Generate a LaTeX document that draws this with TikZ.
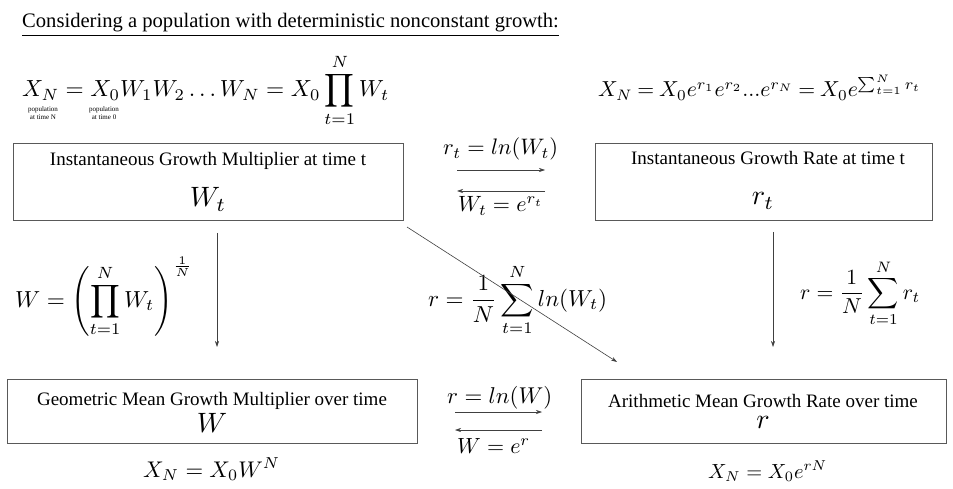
\documentclass[tikz,border=0pt]{standalone}
\usepackage{amsmath}
\usepackage{graphicx}
\usepackage{fontspec}
\newfontfamily\tms{Liberation Serif}
\usetikzlibrary{arrows.meta}
\begin{document}
\begin{tikzpicture}[x=1pt,y=-1pt,
  boxst/.style={draw=black!65, line width=0.8pt, inner sep=0pt, anchor=north west},
  arr/.style={-{Stealth[length=6pt,width=4pt]}, line width=0.6pt, draw=black!75},
  ttl/.style={font=\tms\fontsize{19}{22}\selectfont, anchor=base, inner sep=0pt},
  mth/.style={inner sep=0pt, anchor=base west},
  bmth/.style={inner sep=0pt, anchor=base},
  lbl/.style={font=\tms\fontsize{7}{8}\selectfont, anchor=base, inner sep=0pt}]
\useasboundingbox (0,0) rectangle (953,489);
\fill[white] (0,0) rectangle (953,489);

% title
\node[font=\tms\fontsize{20.6}{24}\selectfont, anchor=base west, inner sep=0pt] (title) at (22,28)
  {\underline{Considering a population with deterministic nonconstant growth:}};

% top formulas
\node[mth] (f1) at (22,97) {\resizebox{367pt}{!}{$\displaystyle X_N = X_0 W_1 W_2 \dots W_N = X_0 \prod_{t=1}^{N} W_t$}};
\node[lbl] (l1a) at (43,112) {population};
\node[lbl] (l1b) at (43,120) {at time N};
\node[lbl] (l2a) at (104,112) {population};
\node[lbl] (l2b) at (104,120) {at time 0};
\node[mth] (f2) at (598,97) {\scalebox{2.17}{\thickmuskip=4mu plus 2mu$X_N = X_0 e^{r_1} e^{r_2} ... e^{r_N} = X_0 e^{\sum_{t=1}^{N} r_t}$}};

% boxes
\node[boxst, minimum width=390pt, minimum height=77pt] (b1) at (13,143) {};
\node[boxst, minimum width=337pt, minimum height=77pt] (b2) at (595,143) {};
\node[boxst, minimum width=410pt, minimum height=64pt] (b3) at (7,379) {};
\node[boxst, minimum width=365pt, minimum height=64pt] (b4) at (581,379) {};

\node[ttl] (b1t) at (208,166) {Instantaneous Growth Multiplier at time t};
\node[bmth] (b1m) at (208,207) {\scalebox{2.8}{$W_t$}};
\node[ttl] (b2t) at (768,165) {Instantaneous Growth Rate at time t};
\node[bmth] (b2m) at (763,205) {\scalebox{2.8}{$r_t$}};
\node[ttl] (b3t) at (212,405) {Geometric Mean Growth Multiplier over time};
\node[bmth] (b3m) at (212,432) {\scalebox{2.8}{$W$}};
\node[ttl] (b4t) at (763,407) {Arithmetic Mean Growth Rate over time};
\node[bmth] (b4m) at (763,428) {\scalebox{2.8}{$r$}};

% middle conversions
\node[mth] (m1) at (443,155) {\resizebox{115pt}{!}{$r_t = ln(W_t)$}};
\node[mth] (m2) at (458,212) {\resizebox{85pt}{!}{$W_t = e^{r_t}$}};
\node[mth] (m3) at (447,403) {\resizebox{105pt}{!}{$r = ln(W)$}};
\node[mth] (m4) at (457,453) {\resizebox{73pt}{!}{$W = e^{r}$}};

\coordinate (a1s) at (457,170); \coordinate (a1e) at (545,170);
\coordinate (a2s) at (545,191); \coordinate (a2e) at (457,191);
\coordinate (a3s) at (455,412); \coordinate (a3e) at (542,412);
\coordinate (a4s) at (542,430); \coordinate (a4e) at (455,430);
\draw[arr] (a1s) -- (a1e);
\draw[arr] (a2s) -- (a2e);
\draw[arr] (a3s) -- (a3e);
\draw[arr] (a4s) -- (a4e);

% mean formulas
\node[inner sep=0pt, anchor=west] (w) at (15,297) {\resizebox{178pt}{!}{$\displaystyle W = \left(\prod_{t=1}^{N} W_t\right)^{\frac{1}{N}}$}};
\node[inner sep=0pt, anchor=west] (rl) at (428,300) {\resizebox{179pt}{!}{$\displaystyle r = \frac{1}{N}\sum_{t=1}^{N} ln(W_t)$}};
\node[inner sep=0pt, anchor=west] (rr) at (800,293) {\resizebox{120pt}{!}{$\displaystyle r = \frac{1}{N}\sum_{t=1}^{N} r_t$}};

% vertical and diagonal arrows
\coordinate (v1s) at (217,233); \coordinate (v1e) at (217,347);
\coordinate (v2s) at (773,232); \coordinate (v2e) at (773,347);
\coordinate (ds) at (407,227); \coordinate (de) at (617,362);
\draw[arr] (v1s) -- (v1e);
\draw[arr] (v2s) -- (v2e);
\draw[arr] (ds) -- (de);

% bottom formulas
\node[mth] (x1) at (143,477) {\resizebox{137pt}{!}{$X_N = X_0 W^N$}};
\node[mth] (x2) at (708,478) {\resizebox{119pt}{!}{$X_N = X_0 e^{rN}$}};
\end{tikzpicture}
\end{document}
